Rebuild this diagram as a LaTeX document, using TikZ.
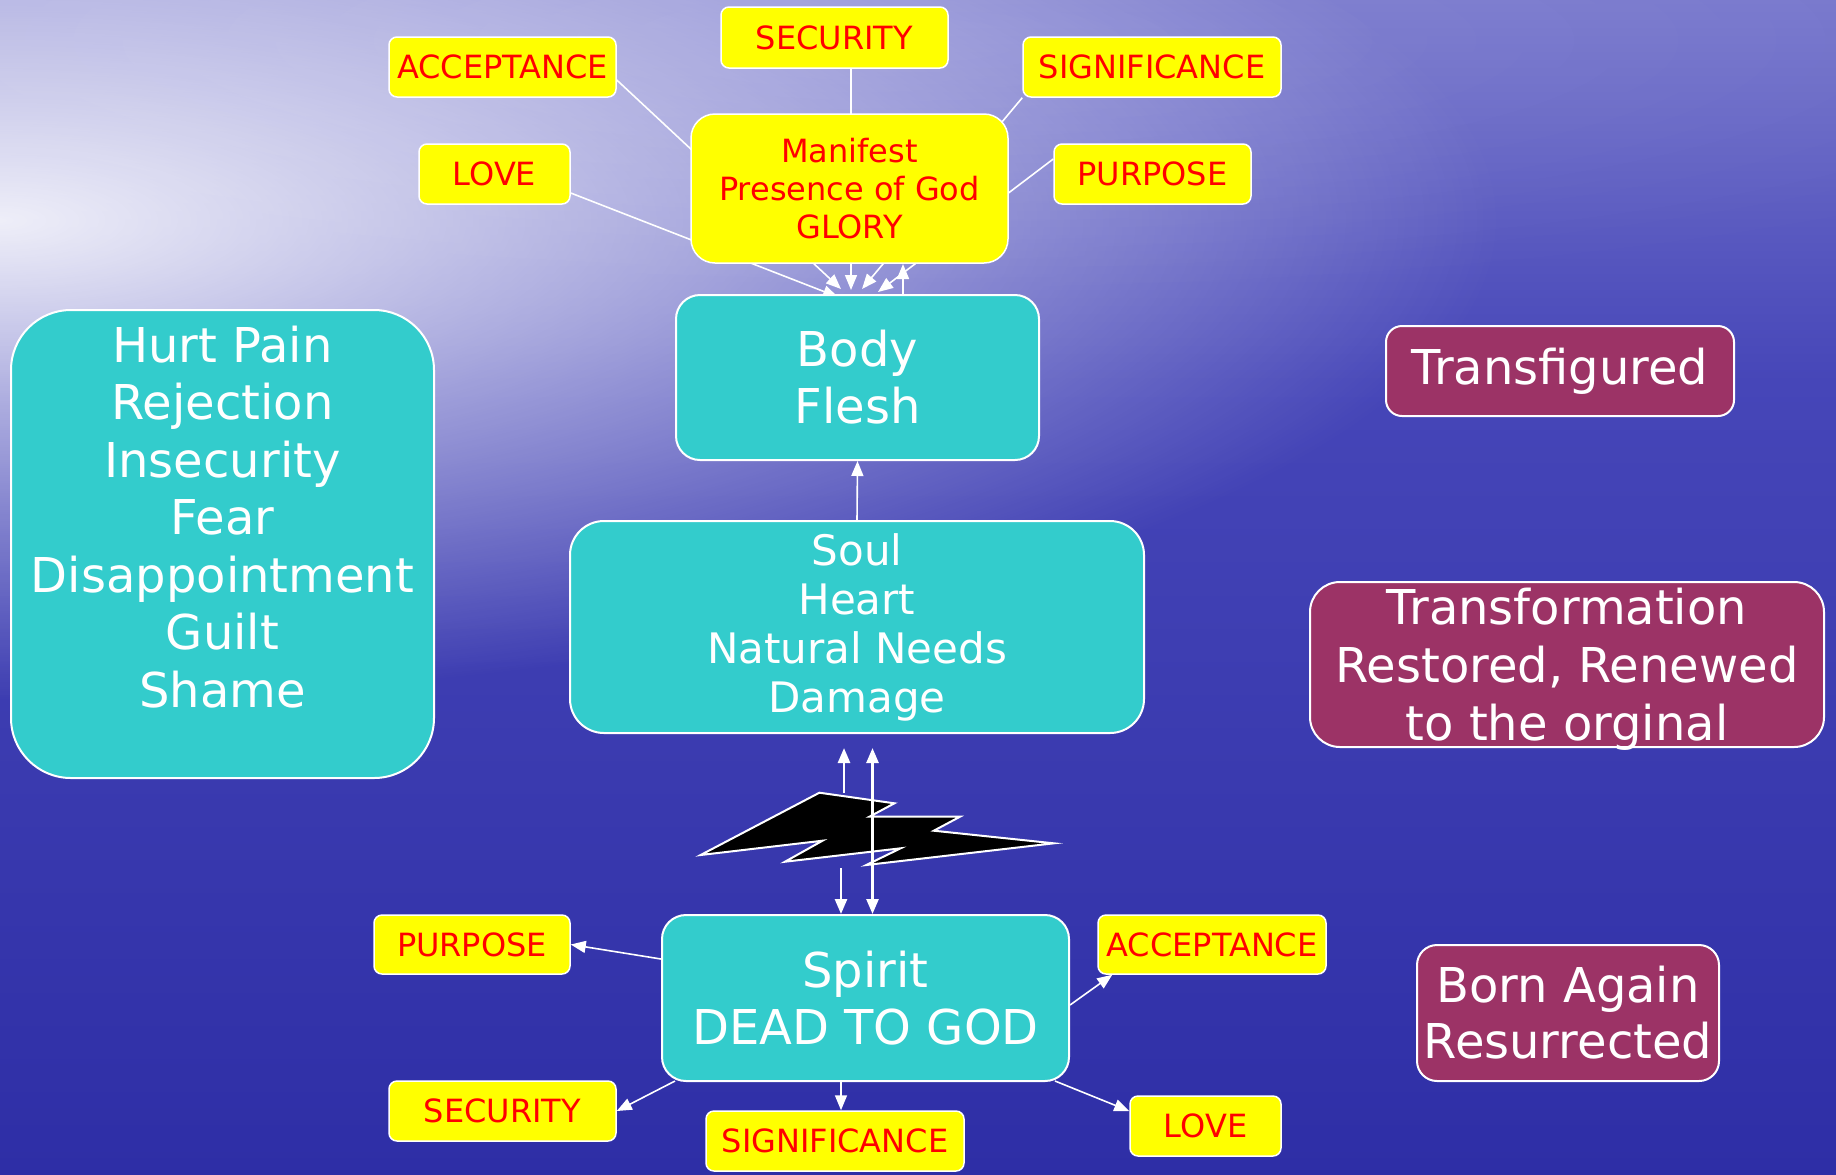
\documentclass[tikz,border=0pt]{standalone}
\usepackage{fontspec}
\setmainfont{DejaVu Sans}
\usetikzlibrary{arrows.meta,calc,fadings}
\definecolor{tealc}{RGB}{51,204,204}
\definecolor{yelc}{RGB}{255,255,0}
\definecolor{redc}{RGB}{255,0,0}
\definecolor{maroonc}{RGB}{156,51,102}
\definecolor{bgzero}{RGB}{118,118,204}
\definecolor{bgone}{RGB}{70,70,184}
\definecolor{bgtwo}{RGB}{46,46,166}
\pgfdeclarelayer{sky}
\pgfdeclarelayer{lines}
\pgfsetlayers{sky,lines,main}
\tikzfading[name=glowfade, inner color=transparent!10, outer color=transparent!100]
\begin{document}
\begin{tikzpicture}[x=0.5pt,y=-0.5pt,
  yel/.style={draw=white, line width=0.75pt, fill=yelc, rounded corners=4pt, text=redc,
    font=\fontsize{16}{19}\selectfont, inner sep=0pt, align=center},
  tealbox/.style={draw=white, line width=1pt, fill=tealc, text=white, align=center, inner sep=0pt},
  maroonbox/.style={draw=white, line width=1pt, fill=maroonc, text=white, align=center, inner sep=0pt},
  bigfont/.style={font=\fontsize{24}{28.5}\selectfont},
  conn/.style={draw=white, line width=0.8pt, -{Triangle[length=7.5pt,width=6pt]}},
  connthick/.style={draw=white, line width=1.3pt, -{Triangle[length=7.5pt,width=6pt]}},
  bolt/.style={draw=white, line width=1pt, fill=black, line join=miter}
]
\useasboundingbox (0,0) rectangle (1836,1174);
\begin{pgfonlayer}{sky}
  \shade[top color=bgzero, bottom color=bgone] (0,0) rectangle (1836,381);
  \shade[top color=bgone, bottom color=bgtwo] (0,380) rectangle (1836,1174);
  \fill[white, path fading=glowfade] (0,220) ellipse [x radius=1500, y radius=480];
  \fill[white, opacity=0.12, path fading=glowfade] (900,40) ellipse [x radius=1400, y radius=260];
\end{pgfonlayer}

% top attribute boxes
\node[yel, minimum width=113.5pt, minimum height=30.5pt] (secT) at (834.5,37.5) {SECURITY};
\node[yel, minimum width=113.5pt, minimum height=30pt] (accT) at (502.5,67) {ACCEPTANCE};
\node[yel, minimum width=129pt, minimum height=30pt] (sigT) at (1152,67) {SIGNIFICANCE};
\node[yel, minimum width=75.5pt, minimum height=30pt] (loveT) at (494.5,174) {LOVE};
\node[yel, minimum width=98.5pt, minimum height=30pt] (purT) at (1152.5,174) {PURPOSE};
\node[yel, rounded corners=12pt, minimum width=158.5pt, minimum height=74.5pt] (glory) at (849.5,188.5) {Manifest\\Presence of God\\GLORY};

% main boxes
\node[tealbox, bigfont, rounded corners=12pt, minimum width=181.5pt, minimum height=82.5pt] (body) at (857.5,377.5) {Body\\Flesh};
\node[tealbox, font=\fontsize{21}{24.5}\selectfont, rounded corners=17pt, minimum width=287pt, minimum height=106pt] (soul) at (857,627) {Soul\\Heart\\Natural Needs\\Damage};
\node[tealbox, bigfont, rounded corners=12pt, minimum width=203.5pt, minimum height=83pt] (spirit) at (865.5,998) {Spirit\\DEAD TO GOD};
\node[tealbox, rounded corners=30pt, minimum width=211.5pt, minimum height=234pt] (hurt) at (222.5,544) {};
\node[text=white, align=center, font=\fontsize{24}{28.75}\selectfont, inner sep=0pt] (hurtT) at (222.5,517) {Hurt Pain\\Rejection\\Insecurity\\Fear\\Disappointment\\Guilt\\Shame};

% right boxes
\node[maroonbox, bigfont, rounded corners=8pt, minimum width=174pt, minimum height=45pt] (transfig) at (1560,371) {Transfigured};
\node[maroonbox, rounded corners=15pt, minimum width=257pt, minimum height=82.5pt] (transform) at (1567,664.5) {};
\node[text=white, align=center, font=\fontsize{24}{29}\selectfont, inner sep=0pt] (transformT) at (1567,669) {Transformation\\Restored, Renewed\\to the orginal};
\node[maroonbox, font=\fontsize{24}{28}\selectfont, rounded corners=10pt, minimum width=151pt, minimum height=68pt] (born) at (1568,1013) {Born Again\\Resurrected};

% bottom attribute boxes
\node[yel, minimum width=98pt, minimum height=29.5pt] (purB) at (472,944.5) {PURPOSE};
\node[yel, minimum width=114pt, minimum height=29.5pt] (accB) at (1212,944.5) {ACCEPTANCE};
\node[yel, minimum width=113.5pt, minimum height=30pt] (secB) at (502.5,1111) {SECURITY};
\node[yel, minimum width=129pt, minimum height=30pt] (sigB) at (835,1141) {SIGNIFICANCE};
\node[yel, minimum width=75.5pt, minimum height=30pt] (loveB) at (1205.5,1126) {LOVE};

% top connectors (behind the GLORY box)
\coordinate (b1) at (838,297);
\coordinate (b2) at (841,289);
\coordinate (b3) at (851,290);
\coordinate (b4) at (862,289);
\coordinate (b5) at (878,292);
\coordinate (u0) at (903,295);
\coordinate (u1) at (903,264);
\begin{pgfonlayer}{lines}
  \draw[conn] ($(loveT.east)+(0,19)$) -- (b1);
  \draw[conn] ($(accT.east)+(0,13)$) -- (b2);
  \draw[conn] ($(secT.south)+(16.5,0)$) -- (b3);
  \draw[conn] (sigT.south west) -- (b4);
  \draw[conn] ($(purT.west)+(0,-15)$) -- (b5);
  \draw[conn] (u0) -- (u1);
\end{pgfonlayer}

\draw[conn] (soul.north) -- (body.south);

% lightning
\draw[bolt] (700.6,855) -- (819.4,792.7) -- (894.4,803.3) -- (869.4,816.7) -- (960,816.7) -- (933.8,830.7) -- (1053.8,843.3) -- (866.3,865) -- (900.6,848.3) -- (785,861.7) -- (822.5,840.7) -- cycle;

\coordinate (l1a) at (844,793);
\coordinate (l1b) at (844,748);
\coordinate (l2a) at (872.5,914);
\coordinate (l2b) at (872.5,748);
\coordinate (l3a) at (841,868);
\coordinate (l3b) at (841,914);
\draw[connthick] (l1a) -- (l1b);
\draw[connthick, {Triangle[length=7.5pt,width=6pt]}-{Triangle[length=7.5pt,width=6pt]}] (l2a) -- (l2b);
\draw[connthick] (l3a) -- (l3b);

% bottom connectors
\draw[conn] ($(spirit.west)+(0,-39)$) -- (purB.east);
\draw[conn] ($(spirit.east)+(0,7)$) -- ($(accB.south west)+(15,0)$);
\draw[conn] ($(spirit.south west)+(14,-1)$) -- (secB.east);
\draw[conn] ($(spirit.south)+(-24.5,0)$) -- ($(sigB.north)+(6,0)$);
\draw[conn] ($(spirit.south east)+(-15,-1)$) -- ($(loveB.west)+(0,-15)$);
\end{tikzpicture}
\end{document}
